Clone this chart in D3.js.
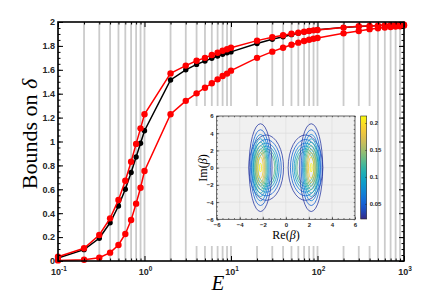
<!DOCTYPE html>
<html>
<head>
<meta charset="utf-8">
<script src="https://cdn.jsdelivr.net/npm/d3@7"></script>
<style>
body { margin: 0; background: #fff; }
svg { display: block; }
</style>
</head>
<body>
<div id="chart"></div>
<script>
// energies where the bounds were computed (also the grey guide lines)
const energies = [0.1, 0.2, 0.3, 0.4, 0.5, 0.6, 0.7, 0.8, 0.9,
                  1, 2, 3, 4, 5, 6, 7, 8, 9,
                  10, 20, 30, 40, 50, 60, 70, 80, 90,
                  100, 200, 300, 400, 500, 600, 700, 800, 900,
                  1000];
const blackBound = [0.025, 0.095, 0.19, 0.32, 0.46, 0.60, 0.74, 0.87, 0.985,
                    1.09, 1.515, 1.60, 1.645, 1.674, 1.696, 1.715, 1.73, 1.743,
                    1.75, 1.82, 1.855, 1.877, 1.894, 1.905, 1.916, 1.925, 1.93,
                    1.936, 1.955, 1.963, 1.967, 1.97, 1.972, 1.974, 1.975, 1.976,
                    1.977];
const upperBound = [0.035, 0.107, 0.218, 0.357, 0.51, 0.672, 0.83, 0.98, 1.11,
                    1.228, 1.57, 1.635, 1.676, 1.70, 1.724, 1.743, 1.76, 1.772,
                    1.785, 1.844, 1.872, 1.889, 1.902, 1.91, 1.919, 1.925, 1.93,
                    1.933, 1.953, 1.964, 1.967, 1.97, 1.972, 1.974, 1.975, 1.976,
                    1.978];
const lowerBound = [0.005, 0.01, 0.028, 0.07, 0.134, 0.226, 0.343, 0.48, 0.613,
                    0.753, 1.228, 1.34, 1.403, 1.45, 1.487, 1.52, 1.548, 1.568,
                    1.593, 1.70, 1.752, 1.785, 1.81, 1.827, 1.841, 1.852, 1.86,
                    1.866, 1.905, 1.925, 1.94, 1.947, 1.953, 1.958, 1.962, 1.965,
                    1.97];
const yTicks = [0, 0.2, 0.4, 0.6, 0.8, 1, 1.2, 1.4, 1.6, 1.8, 2];
const xTickExps = [-1, 0, 1, 2, 3];

// inset: contour levels and lobe ellipses (Re, Im units)
const insetTicks = [-6, -4, -2, 0, 2, 4, 6];
const barTicks = [0.05, 0.1, 0.15, 0.2];
const barRange = [0.022, 0.213];
const levels = [0.03, 0.05, 0.07, 0.09, 0.11, 0.13, 0.15, 0.17, 0.19, 0.21];
const tallCenters = [-2.2, 2.2];
const tallRx = [1.0, 0.86, 0.75, 0.66, 0.58, 0.5, 0.42, 0.34, 0.24, 0.09];
const tallRy = [5.1, 4.4, 3.85, 3.35, 2.95, 2.55, 2.15, 1.75, 1.25, 0.5];
const shortCenters = [-1.7, 1.7];
const shortRx = [1.5, 1.3, 1.12, 0.98, 0.86, 0.74];
const shortRy = [3.8, 3.27, 2.85, 2.5, 2.2, 1.9];
const parulaStops = ["#352a87", "#0f5cdd", "#1481d6", "#06a4ca", "#2eb7a4",
                     "#87bf77", "#d1bb59", "#fec832", "#f9fb0e"];

const W = 447, H = 295;
const plot = {left: 58, right: 404, top: 22, bottom: 261};
const sans = "'Liberation Sans', Arial, sans-serif";
const serif = "'Liberation Serif', 'Times New Roman', serif";

const svg = d3.select("#chart").append("svg")
    .attr("width", W)
    .attr("height", H);

const x = d3.scaleLog().domain([0.1, 1000]).range([plot.left, plot.right]);
const y = d3.scaleLinear().domain([0, 2]).range([plot.bottom, plot.top]);

// grey vertical guide lines
svg.append("g")
    .selectAll("line")
    .data(energies)
    .join("line")
    .attr("x1", d => x(d)).attr("x2", d => x(d))
    .attr("y1", plot.top).attr("y2", plot.bottom)
    .attr("stroke", "#cbcbcb")
    .attr("stroke-width", 1.8);

// curves
const series = [
    {vals: blackBound, color: "#000", r: 2.7},
    {vals: lowerBound, color: "#ff0000", r: 3.2},
    {vals: upperBound, color: "#ff0000", r: 3.2}
];
const line = d3.line().x((d, i) => x(energies[i])).y(d => y(d));

series.forEach(s => {
    svg.append("path")
        .datum(s.vals)
        .attr("d", line)
        .attr("fill", "none")
        .attr("stroke", s.color)
        .attr("stroke-width", 1.5);
    svg.append("g")
        .selectAll("circle")
        .data(s.vals)
        .join("circle")
        .attr("cx", (d, i) => x(energies[i]))
        .attr("cy", d => y(d))
        .attr("r", s.r)
        .attr("fill", s.color);
});

// main axes (ticks pointing inward)
const decades = xTickExps.map(e => Math.pow(10, e));
const minorX = energies.filter(e => !decades.includes(e));
const minorY = d3.range(0, 2.001, 0.05);

function axisG(axis, tx, ty) {
    const g = svg.append("g")
        .attr("transform", "translate(" + tx + "," + ty + ")")
        .call(axis);
    g.select(".domain").remove();
    g.selectAll("line").attr("stroke", "#000").attr("stroke-width", 1);
    return g;
}

const leftAxis = axisG(d3.axisLeft(y).tickValues(yTicks).tickSize(-5).tickPadding(3)
    .tickFormat(d3.format("~g")), plot.left, 0);
leftAxis.selectAll("text")
    .attr("font-family", sans).attr("font-weight", "bold")
    .attr("font-size", 9).attr("fill", "#262626");
axisG(d3.axisLeft(y).tickValues(minorY).tickSize(-2.5).tickFormat(""), plot.left, 0);
axisG(d3.axisRight(y).tickValues(yTicks).tickSize(-5).tickFormat(""), plot.right, 0);
axisG(d3.axisRight(y).tickValues(minorY).tickSize(-2.5).tickFormat(""), plot.right, 0);
axisG(d3.axisBottom(x).tickValues(decades).tickSize(-5).tickFormat(""), 0, plot.bottom);
axisG(d3.axisBottom(x).tickValues(minorX).tickSize(-2.5).tickFormat(""), 0, plot.bottom);
axisG(d3.axisTop(x).tickValues(decades).tickSize(-5).tickFormat(""), 0, plot.top);
axisG(d3.axisTop(x).tickValues(minorX).tickSize(-2.5).tickFormat(""), 0, plot.top);

// x tick labels as 10^n
const xLab = svg.append("g")
    .attr("font-family", sans)
    .attr("font-weight", "bold")
    .attr("fill", "#262626");
xTickExps.forEach(e => {
    const t = xLab.append("text")
        .attr("x", x(Math.pow(10, e)) + 1)
        .attr("y", 275)
        .attr("text-anchor", "middle")
        .attr("font-size", 9);
    t.append("tspan").text("10");
    t.append("tspan").attr("dy", -4).attr("font-size", 6.5).text(e);
});

svg.append("rect")
    .attr("x", plot.left).attr("y", plot.top)
    .attr("width", plot.right - plot.left)
    .attr("height", plot.bottom - plot.top)
    .attr("fill", "none")
    .attr("stroke", "#000")
    .attr("stroke-width", 1.6);

// axis titles
const yTitle = svg.append("text")
    .attr("transform", "translate(37,134) rotate(-90)")
    .attr("text-anchor", "middle")
    .attr("font-family", serif)
    .attr("font-size", 22)
    .attr("fill", "#000");
yTitle.append("tspan").text("Bounds on ");
yTitle.append("tspan").attr("font-style", "italic").text("δ");

svg.append("text")
    .attr("x", 218).attr("y", 290)
    .attr("text-anchor", "middle")
    .attr("font-family", serif)
    .attr("font-style", "italic")
    .attr("font-size", 21)
    .text("E");

// ---------- inset ----------
const ins = {left: 216.7, right: 355, top: 116, bottom: 219.3};
const xi = d3.scaleLinear().domain([-6, 6]).range([ins.left, ins.right]);
const yi = d3.scaleLinear().domain([-6, 6]).range([ins.bottom, ins.top]);
const parula = d3.interpolateRgbBasis(parulaStops);
const levelColor = d3.scaleSequential(parula).domain(barRange);

svg.append("rect")
    .attr("x", 190).attr("y", 106)
    .attr("width", 186).attr("height", 140)
    .attr("fill", "#fff");

svg.append("rect")
    .attr("x", ins.left).attr("y", ins.top)
    .attr("width", ins.right - ins.left)
    .attr("height", ins.bottom - ins.top)
    .attr("fill", "#f0f0f0");

const grid = svg.append("g")
    .attr("stroke", "#dadada")
    .attr("stroke-width", 0.6);
insetTicks.slice(1, -1).forEach(v => {
    grid.append("line").attr("x1", xi(v)).attr("x2", xi(v))
        .attr("y1", ins.top).attr("y2", ins.bottom);
    grid.append("line").attr("x1", ins.left).attr("x2", ins.right)
        .attr("y1", yi(v)).attr("y2", yi(v));
});

svg.append("clipPath").attr("id", "insClip")
    .append("rect")
    .attr("x", ins.left).attr("y", ins.top)
    .attr("width", ins.right - ins.left)
    .attr("height", ins.bottom - ins.top);

const cont = svg.append("g")
    .attr("clip-path", "url(#insClip)")
    .attr("fill", "none")
    .attr("stroke-width", 0.8);

function drawFamily(centers, rxs, rys) {
    centers.forEach(c => {
        cont.append("g")
            .selectAll("ellipse")
            .data(rxs)
            .join("ellipse")
            .attr("cx", xi(c))
            .attr("cy", yi(0))
            .attr("rx", d => xi(d) - xi(0))
            .attr("ry", (d, i) => yi(0) - yi(rys[i]))
            .attr("stroke", (d, i) => levelColor(levels[i]));
    });
}
drawFamily(shortCenters, shortRx, shortRy);
drawFamily(tallCenters, tallRx, tallRy);

function insAxis(axis, tx, ty) {
    const g = svg.append("g")
        .attr("transform", "translate(" + tx + "," + ty + ")")
        .call(axis);
    g.select(".domain").remove();
    g.selectAll("line").attr("stroke", "#262626").attr("stroke-width", 0.6);
    g.selectAll("text")
        .attr("font-family", sans).attr("font-weight", "bold")
        .attr("font-size", 6).attr("fill", "#262626");
    return g;
}
const insMinor = d3.range(-6, 6.01, 0.5);
insAxis(d3.axisBottom(xi).tickValues(insetTicks).tickSize(-2.5).tickPadding(3), 0, ins.bottom);
insAxis(d3.axisLeft(yi).tickValues(insetTicks).tickSize(-2.5).tickPadding(3), ins.left, 0);
insAxis(d3.axisBottom(xi).tickValues(insMinor).tickSize(-1.3).tickFormat(""), 0, ins.bottom);
insAxis(d3.axisLeft(yi).tickValues(insMinor).tickSize(-1.3).tickFormat(""), ins.left, 0);
insAxis(d3.axisTop(xi).tickValues(insMinor).tickSize(-1.3).tickFormat(""), 0, ins.top);
insAxis(d3.axisRight(yi).tickValues(insMinor).tickSize(-1.3).tickFormat(""), ins.right, 0);

svg.append("rect")
    .attr("x", ins.left).attr("y", ins.top)
    .attr("width", ins.right - ins.left)
    .attr("height", ins.bottom - ins.top)
    .attr("fill", "none")
    .attr("stroke", "#262626")
    .attr("stroke-width", 0.7);

const reLab = svg.append("text")
    .attr("x", 286).attr("y", 239)
    .attr("text-anchor", "middle")
    .attr("font-family", serif)
    .attr("font-size", 12);
reLab.append("tspan").text("Re(");
reLab.append("tspan").attr("font-style", "italic").text("β");
reLab.append("tspan").text(")");

const imLab = svg.append("text")
    .attr("transform", "translate(207,168) rotate(-90)")
    .attr("text-anchor", "middle")
    .attr("font-family", serif)
    .attr("font-size", 12);
imLab.append("tspan").text("Im(");
imLab.append("tspan").attr("font-style", "italic").text("β");
imLab.append("tspan").text(")");

// colorbar
const bar = {left: 360.7, right: 366.7, top: 116, bottom: 219};
const yb = d3.scaleLinear().domain(barRange).range([bar.bottom, bar.top]);
const grad = svg.append("defs").append("linearGradient")
    .attr("id", "parulaGrad")
    .attr("x1", 0).attr("y1", 1).attr("x2", 0).attr("y2", 0);
grad.selectAll("stop")
    .data(d3.range(0, 1.001, 0.05))
    .join("stop")
    .attr("offset", d => d)
    .attr("stop-color", d => parula(d));
svg.append("rect")
    .attr("x", bar.left).attr("y", bar.top)
    .attr("width", bar.right - bar.left)
    .attr("height", bar.bottom - bar.top)
    .attr("fill", "url(#parulaGrad)")
    .attr("stroke", "#262626")
    .attr("stroke-width", 0.6);
const barAxis = insAxis(d3.axisRight(yb).tickValues(barTicks).tickSize(-1.5).tickPadding(3)
    .tickFormat(d3.format("~g")), bar.right, 0);
</script>
</body>
</html>
